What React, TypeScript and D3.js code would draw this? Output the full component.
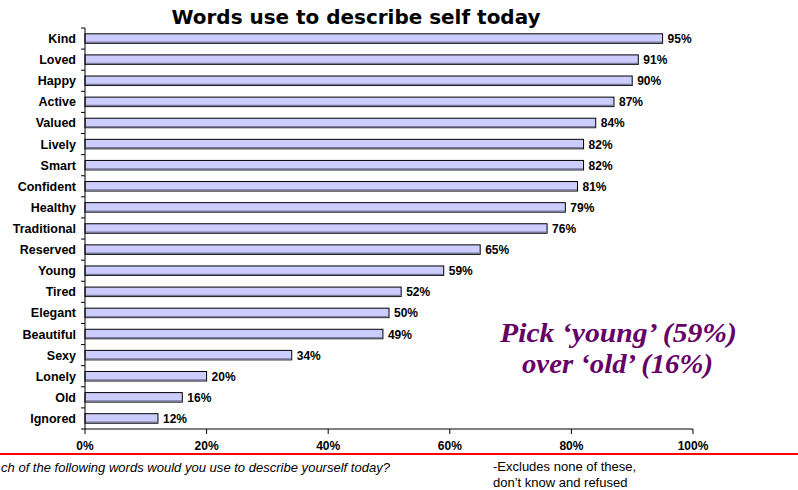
import React from "react";
import * as d3 from "d3";

const categories = ["Kind","Loved","Happy","Active","Valued","Lively","Smart","Confident","Healthy","Traditional","Reserved","Young","Tired","Elegant","Beautiful","Sexy","Lonely","Old","Ignored"];
const values = [95,91,90,87,84,82,82,81,79,76,65,59,52,50,49,34,20,16,12];
const xTicks = [0,20,40,60,80,100];
const title = "Words use to describe self today";
const noteLines = ["Pick \u2018young\u2019 (59%)", "over \u2018old\u2019 (16%)"];
const footLeft = "ch of the following words would you use to describe yourself today?";
const footRight = ["-Excludes none of these,", "don\u2019t know and refused"];

const W = 798, H = 490;
const x0 = 85, x1 = 693, yTop = 28, yBot = 429;

export default function App() {
  const x = d3.scaleLinear().domain([0, 100]).range([x0, x1]);
  const y = d3.scaleBand<string>().domain(categories).range([yTop, yBot]).paddingInner(0.55).paddingOuter(0.275);
  const step = y.step();
  const bounds = d3.range(categories.length + 1).map(i => yTop + i * step);
  const font = "'Liberation Sans', Arial, sans-serif";
  return (
    <svg width={W} height={H} style={{ position: "absolute", left: 0, top: 0 }} fontFamily={font}>
      <rect width={W} height={H} fill="#fff" />
      <text x={356} y={24} textAnchor="middle" fontSize={19} fontWeight="bold"
        fontFamily="'DejaVu Sans', Verdana, sans-serif" textLength={369} lengthAdjust="spacingAndGlyphs">{title}</text>
      {categories.map((c, i) => {
        const by = y(c)!;
        const bh = y.bandwidth();
        const bw = x(values[i]) - x(0);
        return (
          <g key={c}>
            <rect x={x(0)} y={by} width={bw} height={bh} fill="#ccccff" stroke="#000" strokeWidth={1} />
            <line x1={x(0) + 0.5} x2={x(0) + bw - 0.5} y1={by + bh - 1} y2={by + bh - 1} stroke="#7a7a99" strokeWidth={1.5} />
            <text x={76} y={by + bh / 2 + 4.5} textAnchor="end" fontSize={12.5} fontWeight="bold">{c}</text>
            <text x={x(values[i]) + 5} y={by + bh / 2 + 4.5} fontSize={12} fontWeight="bold">{values[i]}%</text>
          </g>
        );
      })}
      <line x1={x0} x2={x0} y1={yTop} y2={yBot} stroke="#000" />
      {bounds.map((b, i) => (
        <line key={i} x1={x0 - 4} x2={x0} y1={b} y2={b} stroke="#000" />
      ))}
      <line x1={x0} x2={x1} y1={yBot} y2={yBot} stroke="#000" />
      {xTicks.map(t => (
        <g key={t}>
          <line x1={x(t)} x2={x(t)} y1={yBot} y2={yBot + 5} stroke="#000" />
          <text x={x(t)} y={450} textAnchor="middle" fontSize={12} fontWeight="bold">{t}%</text>
        </g>
      ))}
      <line x1={0} x2={W} y1={454} y2={454} stroke="#ff0000" strokeWidth={2} />
      <text x={1} y={472} fontSize={13} fontStyle="italic" textLength={389} lengthAdjust="spacingAndGlyphs">{footLeft}</text>
      {footRight.map((s, i) => (
        <text key={i} x={493} y={471 + i * 16} fontSize={13}>{s}</text>
      ))}
      {noteLines.map((s, i) => (
        <text key={i} x={i === 0 ? 500 : 522} y={342 + i * 31} fontSize={27} fontWeight="bold" fontStyle="italic"
          fontFamily="'Liberation Serif', 'DejaVu Serif', serif" fill="#660066"
          textLength={i === 0 ? 237 : 191} lengthAdjust="spacingAndGlyphs">{s}</text>
      ))}
    </svg>
  );
}
